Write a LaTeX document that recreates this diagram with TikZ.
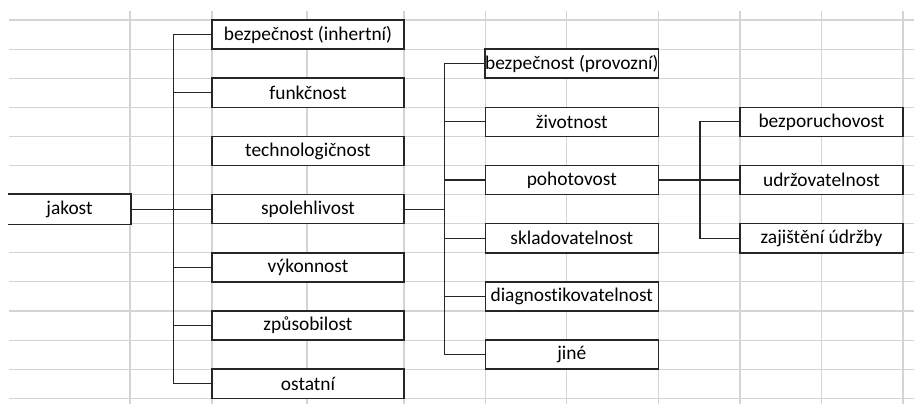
\documentclass[tikz,border=0pt]{standalone}
\usepackage{fontspec}
\setmainfont{Carlito}[Ligatures=NoCommon]
\begin{document}
\begin{tikzpicture}[x=1pt,y=-1pt,
  gridline/.style={draw=black!17,line width=1.1pt},
  box/.style={draw=black!85,fill=white,line width=1.5pt,inner sep=0pt,
    minimum height=29.1pt,font=\fontsize{19.4}{22}\selectfont},
  lone/.style={box,minimum width=192pt},
  ltwo/.style={box,minimum width=173pt},
  lthree/.style={box,minimum width=163pt},
  conn/.style={draw=black!85,line width=1.2pt}]
\useasboundingbox (0,0) rectangle (914,404);
% spreadsheet grid
\foreach \k in {0,...,13}
  \draw[gridline] (9,20+29.1*\k) -- (914,20+29.1*\k);
\foreach \x in {130,212,307,404,485.3,566.7,658.3,740,821.7,903}
  \draw[gridline] (\x,11) -- (\x,404);
% root
\node[box,draw=none,minimum width=121pt] (jakost) at (69.5,209.15) {jakost};
\draw[conn,line width=1.5pt] (jakost.north west) -- (jakost.north east) -- (jakost.south east) -- (jakost.south west);
% level 1
\node[lone] (bez1) at (308,34.55) {bezpečnost (inhertní)};
\node[lone] (funk) at (308,92.75) {funkčnost};
\node[lone] (tech) at (308,150.95) {technologičnost};
\node[lone] (spol) at (308,209.15) {spolehlivost};
\node[lone] (vyk) at (308,267.35) {výkonnost};
\node[lone] (zpus) at (308,325.55) {způsobilost};
\node[lone] (ost) at (308,383.75) {ostatní};
% level 2
\node[ltwo] (bez2) at (571.8,63.65) {bezpečnost (provozní)};
\node[ltwo] (ziv) at (571.8,121.85) {životnost};
\node[ltwo] (poh) at (571.8,180.05) {pohotovost};
\node[ltwo] (sklad) at (571.8,238.25) {skladovatelnost};
\node[ltwo] (diag) at (571.8,296.45) {diagnostikovatelnost};
\node[ltwo] (jine) at (571.8,354.65) {jiné};
% level 3
\node[lthree] (bezpor) at (821.5,121.85) {bezporuchovost};
\node[lthree] (udrz) at (821.5,180.05) {udržovatelnost};
\node[lthree] (zaj) at (821.5,238.25) {zajištění údržby};
% bracket coordinates
\coordinate (b1) at (173.3,0);
\coordinate (b2) at (444.3,0);
\coordinate (b3) at (700,0);
% connectors level 0-1
\draw[conn] (jakost.east) -- (spol.west);
\draw[conn] (bez1.west) -| (b1 |- ost.west) -- (ost.west);
\foreach \n in {funk,vyk,zpus}
  \draw[conn] (\n.west) -- (\n.west -| b1);
% connectors level 1-2
\draw[conn] (spol.east) -- (spol.east -| b2);
\draw[conn] (bez2.west) -| (b2 |- jine.west) -- (jine.west);
\foreach \n in {ziv,poh,sklad,diag}
  \draw[conn] (\n.west) -- (\n.west -| b2);
% connectors level 2-3
\draw[conn] (poh.east) -- (udrz.west);
\draw[conn] (bezpor.west) -| (b3 |- zaj.west) -- (zaj.west);
\end{tikzpicture}
\end{document}
